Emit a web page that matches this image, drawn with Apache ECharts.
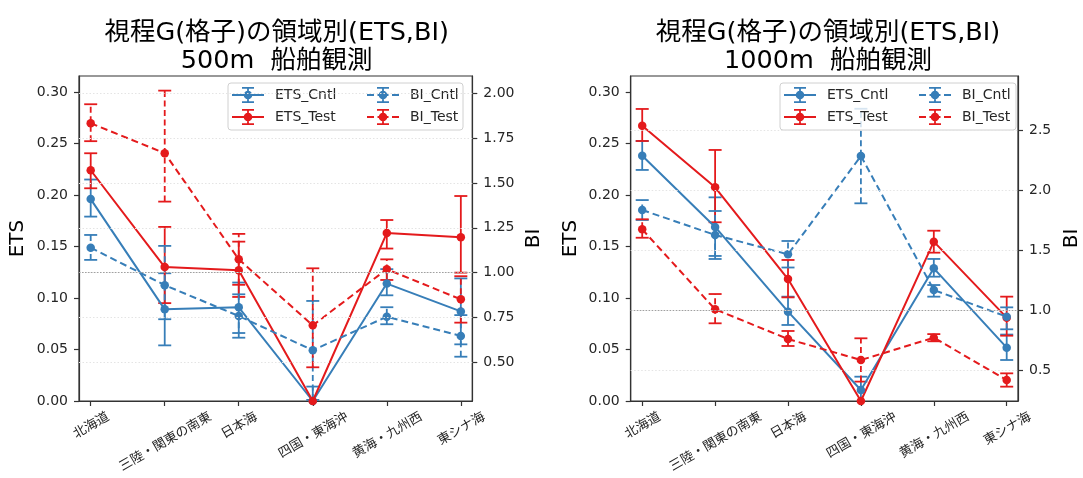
<!DOCTYPE html>
<html><head><meta charset="utf-8">
<script src="https://cdn.jsdelivr.net/npm/echarts@6/dist/echarts.min.js"></script>
<style>html,body{margin:0;padding:0;background:#fff}#c{width:1083px;height:478px}</style>
</head><body><div id="c"></div>
<script>
// ---------------- data ----------------
const categories = ['北海道', '三陸・関東の南東', '日本海', '四国・東海沖', '黄海・九州西', '東シナ海'];
const titles = ['視程G(格子)の領域別(ETS,BI)\n500m  船舶観測', '視程G(格子)の領域別(ETS,BI)\n1000m  船舶観測'];
const etsTicks = [0.00, 0.05, 0.10, 0.15, 0.20, 0.25, 0.30];
const biTicks500 = [0.50, 0.75, 1.00, 1.25, 1.50, 1.75, 2.00];
const biTicks1000 = [0.5, 1.0, 1.5, 2.0, 2.5];
const biRef = 1.0;

// 500m
const etsCntl500   = [0.196, 0.089, 0.091, 0.000, 0.114, 0.087];
const etsCntl500Lo = [0.179, 0.054, 0.066, -0.014, 0.1026, 0.055];
const etsCntl500Hi = [0.215, 0.124, 0.115, 0.014, 0.128, 0.119];
const etsTest500   = [0.224, 0.130, 0.127, 0.000, 0.163, 0.159];
const etsTest500Lo = [0.2065, 0.095, 0.101, 0.000, 0.148, 0.1246];
const etsTest500Hi = [0.2405, 0.169, 0.1547, 0.000, 0.1757, 0.199];
const biCntl500    = [1.139, 0.930, 0.758, 0.567, 0.754, 0.647];
const biCntl500Lo  = [1.071, 0.740, 0.637, 0.290, 0.712, 0.531];
const biCntl500Hi  = [1.210, 1.149, 0.879, 0.842, 0.807, 0.763];
const biTest500    = [1.833, 1.666, 1.074, 0.706, 1.019, 0.851];
const biTest500Lo  = [1.733, 1.396, 0.932, 0.472, 0.959, 0.721];
const biTest500Hi  = [1.939, 2.015, 1.216, 1.024, 1.074, 0.980];

// 1000m
const etsCntl1000   = [0.238, 0.169, 0.0867, 0.0107, 0.1288, 0.0518];
const etsCntl1000Lo = [0.2243, 0.1408, 0.0738, -0.002, 0.1207, 0.0398];
const etsCntl1000Hi = [0.2524, 0.1977, 0.1013, 0.0236, 0.1379, 0.0645];
const etsTest1000   = [0.2673, 0.2074, 0.1184, 0.000, 0.1547, 0.0809];
const etsTest1000Lo = [0.2524, 0.1735, 0.1006, 0.000, 0.144, 0.0634];
const etsTest1000Hi = [0.2835, 0.2437, 0.1369, 0.000, 0.1653, 0.1013];
const biCntl1000    = [1.839, 1.631, 1.470, 2.289, 1.1725, 0.950];
const biCntl1000Lo  = [1.756, 1.431, 1.360, 1.895, 1.117, 0.845];
const biCntl1000Hi  = [1.922, 1.831, 1.581, 2.683, 1.214, 1.028];
const biTest1000    = [1.678, 1.0117, 0.764, 0.589, 0.775, 0.4225];
const biTest1000Lo  = [1.608, 0.895, 0.706, 0.409, 0.745, 0.367];
const biTest1000Hi  = [1.762, 1.139, 0.831, 0.770, 0.805, 0.478];

// ---------------- style / layout ----------------
const BLUE = '#377eb8', RED = '#e41a1c';
const LAT = '"DejaVu Sans", "Noto Sans CJK JP", sans-serif';
const JP = '"Noto Sans CJK JP", sans-serif';
const AX = '#333';
const grids = [
  {left: 79, top: 76, width: 393.3, height: 325},
  {left: 630.7, top: 76, width: 392.6, height: 325}
];
const etsRange = [0, 0.3155];
const biRanges = [[0.284, 2.0965], [0.2475, 2.956]];
const biTicks = [biTicks500, biTicks1000];
const biDigits = [2, 1];
const xRange = [-0.158, 5.155];
const catIdx = categories.map((c, i) => i);

const ctx = document.createElement('canvas').getContext('2d');

// rotated category label centring (matplotlib-style centre alignment)
const catFont = 13;
ctx.font = catFont + 'px ' + JP;
const catRich = {};
categories.forEach((c, i) => {
  const w = ctx.measureText(c).width;
  const D = (w * 0.5 + catFont * 0.866) / 2;
  catRich['c' + i] = {fontSize: catFont, fontFamily: JP, color: '#262626', padding: [1.732 * D, D, 0, 0]};
});

// legend handle (line + marker + errorbar), as a filled path
const IW = 32, IH = 16;
function rect(x, y, w, h) { return `M${x},${y}h${w}v${h}h${-w}Z`; }
function handlePath(dashed) {
  const cy = IH / 2, t = 1.8;
  let p = '';
  if (dashed) {
    p += rect(0, cy - t / 2, 7, t) + rect(10.5, cy - t / 2, 11, t) + rect(25, cy - t / 2, 7, t);
  } else {
    p += rect(0, cy - t / 2, IW, t);
  }
  p += rect(IW / 2 - t / 2, 0, t, IH);
  p += rect(IW / 2 - 6, 0, 12, t) + rect(IW / 2 - 6, IH - t, 12, t);
  p += `M${IW / 2 - 4.3},${cy}A4.3,4.3 0 1,1 ${IW / 2 + 4.3},${cy}A4.3,4.3 0 1,1 ${IW / 2 - 4.3},${cy}Z`;
  return 'path://' + p;
}

function lineSeries(name, vals, k, yi, color, dashed) {
  return {
    type: 'line', name, xAxisIndex: k, yAxisIndex: yi,
    data: vals.map((v, i) => [i, v]),
    symbol: 'circle', symbolSize: 8.5, showSymbol: true,
    itemStyle: {color},
    lineStyle: {color, width: 2, type: dashed ? [7, 4] : 'solid'},
    emphasis: {disabled: true}, clip: true, animation: false, z: 3
  };
}
function errSeries(name, lo, hi, k, yi, color, dashed) {
  return {
    type: 'custom', name: name + '_err', xAxisIndex: k, yAxisIndex: yi,
    data: lo.map((l, i) => [i, l, hi[i]]),
    encode: {x: 0, y: [1, 2]}, clip: true, animation: false, silent: true, z: 3,
    renderItem: (params, api) => {
      const x = api.value(0), l = api.value(1), h = api.value(2);
      if (l === h) return null;
      const p1 = api.coord([x, l]), p2 = api.coord([x, h]);
      const cw = 6.5;
      const solid = {stroke: color, lineWidth: 1.8};
      return {type: 'group', children: [
        {type: 'line', shape: {x1: p1[0], y1: p1[1], x2: p2[0], y2: p2[1]},
         style: {stroke: color, lineWidth: 1.8, lineDash: dashed ? [6, 3.5] : null}},
        {type: 'line', shape: {x1: p1[0] - cw, y1: p1[1], x2: p1[0] + cw, y2: p1[1]}, style: solid},
        {type: 'line', shape: {x1: p2[0] - cw, y1: p2[1], x2: p2[0] + cw, y2: p2[1]}, style: solid}
      ]};
    }
  };
}
function gridSeries(k) {
  const yi = 2 * k + 1;
  return {
    type: 'line', name: 'grid' + k, xAxisIndex: k, yAxisIndex: yi, data: [], silent: true,
    markLine: {
      symbol: 'none', silent: true, animation: false, label: {show: false},
      lineStyle: {color: '#e4e4e4', type: [1.5, 2], width: 1},
      data: biTicks[k].map(t => ({yAxis: t})).concat([
        {yAxis: biRef, lineStyle: {color: '#a0a0a0', type: [1.5, 1.5], width: 1}}
      ])
    }
  };
}

const sets = [
  {ec: etsCntl500, ecl: etsCntl500Lo, ech: etsCntl500Hi, et: etsTest500, etl: etsTest500Lo, eth: etsTest500Hi,
   bc: biCntl500, bcl: biCntl500Lo, bch: biCntl500Hi, bt: biTest500, btl: biTest500Lo, bth: biTest500Hi},
  {ec: etsCntl1000, ecl: etsCntl1000Lo, ech: etsCntl1000Hi, et: etsTest1000, etl: etsTest1000Lo, eth: etsTest1000Hi,
   bc: biCntl1000, bcl: biCntl1000Lo, bch: biCntl1000Hi, bt: biTest1000, btl: biTest1000Lo, bth: biTest1000Hi}
];

const series = [];
sets.forEach((s, k) => {
  series.push(gridSeries(k));
  series.push(errSeries('ETS_Cntl', s.ecl, s.ech, k, 2 * k, BLUE, false));
  series.push(lineSeries('ETS_Cntl', s.ec, k, 2 * k, BLUE, false));
  series.push(errSeries('ETS_Test', s.etl, s.eth, k, 2 * k, RED, false));
  series.push(lineSeries('ETS_Test', s.et, k, 2 * k, RED, false));
  series.push(errSeries('BI_Cntl', s.bcl, s.bch, k, 2 * k + 1, BLUE, true));
  series.push(lineSeries('BI_Cntl', s.bc, k, 2 * k + 1, BLUE, true));
  series.push(errSeries('BI_Test', s.btl, s.bth, k, 2 * k + 1, RED, true));
  series.push(lineSeries('BI_Test', s.bt, k, 2 * k + 1, RED, true));
});

const xAxis = grids.map((g, k) => ({
  type: 'value', gridIndex: k, min: xRange[0], max: xRange[1],
  axisLine: {show: true, onZero: false, lineStyle: {color: AX, width: 1.2}},
  axisTick: {show: true, length: 5, lineStyle: {color: AX, width: 1.2}, customValues: catIdx},
  axisLabel: {customValues: catIdx, rotate: 30, align: 'center', verticalAlign: 'middle', margin: 8,
    formatter: v => '{c' + v + '|' + categories[v] + '}', rich: catRich},
  splitLine: {show: false}
}));

const yAxis = [];
grids.forEach((g, k) => {
  yAxis.push({
    type: 'value', gridIndex: k, position: 'left', min: etsRange[0], max: etsRange[1],
    name: 'ETS', nameLocation: 'middle', nameGap: k === 0 ? 51 : 50,
    nameTextStyle: {fontSize: 20, color: '#000', fontFamily: LAT},
    axisLine: {show: true, onZero: false, lineStyle: {color: AX, width: 1.2}},
    axisTick: {show: true, length: 5, lineStyle: {color: AX, width: 1.2}, customValues: etsTicks},
    axisLabel: {customValues: etsTicks, formatter: v => v.toFixed(2), fontSize: 14, color: '#262626', fontFamily: LAT, margin: 11},
    splitLine: {show: false}
  });
  yAxis.push({
    type: 'value', gridIndex: k, position: 'right', min: biRanges[k][0], max: biRanges[k][1],
    name: 'BI', nameLocation: 'middle', nameGap: k === 0 ? 51 : 44,
    nameTextStyle: {fontSize: 20, color: '#000', fontFamily: LAT},
    axisLine: {show: true, onZero: false, lineStyle: {color: AX, width: 1.2}},
    axisTick: {show: true, length: 5, lineStyle: {color: AX, width: 1.2}, customValues: biTicks[k]},
    axisLabel: {customValues: biTicks[k], formatter: v => v.toFixed(biDigits[k]), fontSize: 14, color: '#262626', fontFamily: LAT, margin: 11},
    splitLine: {show: false}
  });
});

// legend: two columns per chart (ETS column carries the frame)
const legendCols = [['ETS_Cntl', 'ETS_Test'], ['BI_Cntl', 'BI_Test']];
const legendColors = {ETS_Cntl: BLUE, BI_Cntl: BLUE, ETS_Test: RED, BI_Test: RED};
const legendBoxes = [{left: 228, right: 465}, {left: 780, right: 1018}];
const col2Offset = 139;
const LF = 14;
ctx.font = LF + 'px ' + LAT;
const wEts = Math.max(...legendCols[0].map(n => ctx.measureText(n).width));
const legendText = {fontSize: LF, color: '#262626', fontFamily: LAT, padding: [0, 0, 0, 6]};
const legend = [];
legendBoxes.forEach(b => {
  const padR = Math.max(0, (b.right - b.left) - 4 - (IW + 5 + 6 + wEts) - 2);
  legend.push({
    left: b.left, top: 83, orient: 'vertical', z: 4,
    data: legendCols[0].map(n => ({name: n, icon: handlePath(false), itemStyle: {color: legendColors[n], borderWidth: 0}})),
    itemWidth: IW, itemHeight: IH, itemGap: 6,
    padding: [4, padR, 5, 4], borderColor: '#d0d0d0', borderWidth: 1, borderRadius: 3,
    backgroundColor: 'rgba(255,255,255,0.8)', selectedMode: false, textStyle: legendText
  });
  legend.push({
    left: b.left + col2Offset, top: 83, orient: 'vertical', z: 5,
    data: legendCols[1].map(n => ({name: n, icon: handlePath(true), itemStyle: {color: legendColors[n], borderWidth: 0}})),
    itemWidth: IW, itemHeight: IH, itemGap: 6,
    padding: [4, 0, 5, 0], borderWidth: 0, backgroundColor: 'transparent', selectedMode: false, textStyle: legendText
  });
});

const title = grids.map((g, k) => ({
  text: titles[k], left: g.left + g.width / 2 - 4, textAlign: 'center', top: 14,
  textStyle: {fontSize: 25.5, lineHeight: 28, fontWeight: 'normal', color: '#000', fontFamily: LAT}
}));

const chart = echarts.init(document.getElementById('c'), null, {renderer: 'canvas'});
chart.setOption({
  animation: false, backgroundColor: '#fff',
  title, legend,
  grid: grids.map(g => Object.assign({show: true, borderColor: AX, borderWidth: 1.2, backgroundColor: 'transparent', containLabel: false}, g)),
  xAxis, yAxis, series
});
</script></body></html>
